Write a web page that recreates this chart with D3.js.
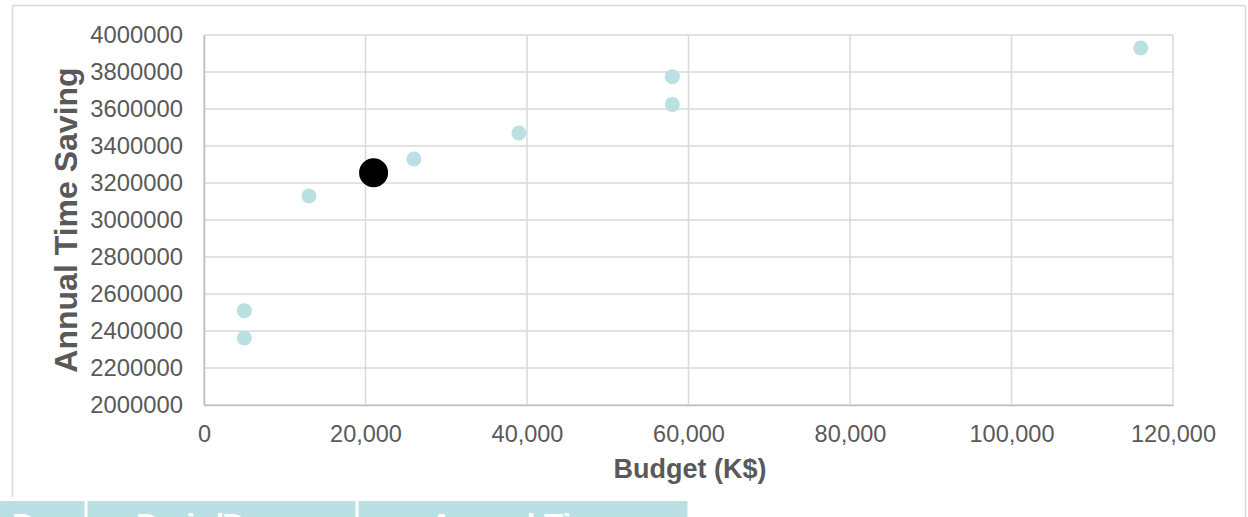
<!DOCTYPE html>
<html>
<head>
<meta charset="utf-8">
<script src="https://cdn.jsdelivr.net/npm/d3@7"></script>
<style>
  html, body { margin: 0; padding: 0; background: #fff; }
  svg { display: block; font-family: "Liberation Sans", Arial, sans-serif; }
</style>
</head>
<body>
<svg id="chart" width="1248" height="517"></svg>
<script>
// Budget (K$) and annual time saving per option
const budgets = [5000, 5000, 13000, 26000, 39000, 58000, 58000, 116000];
const savings = [2510000, 2362000, 3130000, 3330000, 3470000, 3775000, 3625000, 3930000];

// Highlighted option
const selectedBudget = [21000];
const selectedSaving = [3255000];

// Axis ticks
const xTicks = [0, 20000, 40000, 60000, 80000, 100000, 120000];
const yTicks = [2000000, 2200000, 2400000, 2600000, 2800000, 3000000, 3200000, 3400000, 3600000, 3800000, 4000000];

// Table header cells below the chart
const tableHeaders = ["Dv", "Dmin/Dmax", "Annual Time"];
const tableEdges = [0, 86, 357, 689];

const svg = d3.select("#chart");
const plot = { left: 204, right: 1173, top: 35, bottom: 405 };

const x = d3.scaleLinear().domain([0, 120000]).range([plot.left, plot.right]);
const y = d3.scaleLinear().domain([2000000, 4000000]).range([plot.bottom, plot.top]);

const textColor = "#595959";
const gridColor = "#d9d9d9";
const teal = "#bbe0e3";

// Chart frame
const frame = svg.append("g").attr("fill", "none").attr("stroke", gridColor).attr("stroke-width", 1.5);
frame.append("line").attr("x1", 12.5).attr("x2", 12.5).attr("y1", 5.5).attr("y2", 497);
frame.append("line").attr("x1", 12.5).attr("x2", 1245.5).attr("y1", 5.5).attr("y2", 5.5);
frame.append("line").attr("x1", 1245.5).attr("x2", 1245.5).attr("y1", 5.5).attr("y2", 517);

// Gridlines
const grid = svg.append("g");
grid.selectAll(".hg").data(yTicks).join("line")
  .attr("x1", plot.left).attr("x2", plot.right)
  .attr("y1", d => y(d)).attr("y2", d => y(d))
  .attr("stroke", gridColor).attr("stroke-width", 1.5);
grid.selectAll(".vg").data(xTicks).join("line")
  .attr("y1", plot.top).attr("y2", plot.bottom)
  .attr("x1", d => x(d)).attr("x2", d => x(d))
  .attr("stroke", gridColor).attr("stroke-width", 1.5);

// Axes
const xAxis = svg.append("g")
  .attr("transform", `translate(0,${plot.bottom})`)
  .call(d3.axisBottom(x).tickValues(xTicks).tickSize(0).tickPadding(20)
    .tickFormat(d => d === 0 ? "0" : d3.format(",")(d)));
xAxis.select(".domain").attr("stroke", "#bfbfbf").attr("stroke-width", 1.5);
xAxis.selectAll("text").attr("fill", textColor).attr("font-size", 23.5).attr("font-family", "Liberation Sans, Arial, sans-serif");

const yAxis = svg.append("g")
  .attr("transform", `translate(${plot.left},0)`)
  .call(d3.axisLeft(y).tickValues(yTicks).tickSize(0).tickPadding(21).tickFormat(d3.format("d")));
yAxis.select(".domain").attr("stroke", "#bfbfbf").attr("stroke-width", 1.5);
yAxis.selectAll("text").attr("fill", textColor).attr("font-size", 23.8).attr("font-family", "Liberation Sans, Arial, sans-serif");

// Axis titles
svg.append("text")
  .attr("x", 690).attr("y", 478)
  .attr("text-anchor", "middle")
  .attr("fill", textColor).attr("font-weight", "bold").attr("font-size", 27)
  .text("Budget (K$)");

svg.append("text")
  .attr("transform", `translate(77,${(plot.top + plot.bottom) / 2}) rotate(-90)`)
  .attr("text-anchor", "middle")
  .attr("fill", textColor).attr("font-weight", "bold").attr("font-size", 32)
  .text("Annual Time Saving");

// Points
const points = budgets.map((b, i) => ({ b, s: savings[i] }));
svg.append("g").selectAll("circle").data(points).join("circle")
  .attr("cx", d => x(d.b)).attr("cy", d => y(d.s))
  .attr("r", 7.5).attr("fill", teal);

svg.append("g").selectAll("circle")
  .data(selectedBudget.map((b, i) => ({ b, s: selectedSaving[i] })))
  .join("circle")
  .attr("cx", d => x(d.b)).attr("cy", d => y(d.s))
  .attr("r", 14.5).attr("fill", "#000");

// Table header row
const table = svg.append("g");
tableHeaders.forEach((h, i) => {
  const x0 = tableEdges[i] + (i === 0 ? 0 : 1.5);
  const x1 = tableEdges[i + 1] - 1.5;
  table.append("rect")
    .attr("x", x0).attr("y", 501).attr("width", x1 - x0).attr("height", 30)
    .attr("fill", teal);
  const t = table.append("text")
    .attr("y", 536)
    .attr("fill", "#fff").attr("font-weight", "bold").attr("font-size", 31)
    .text(h);
  if (i === 0) t.attr("x", 52).attr("text-anchor", "end");
  else t.attr("x", (x0 + x1) / 2).attr("text-anchor", "middle");
});
</script>
</body>
</html>
